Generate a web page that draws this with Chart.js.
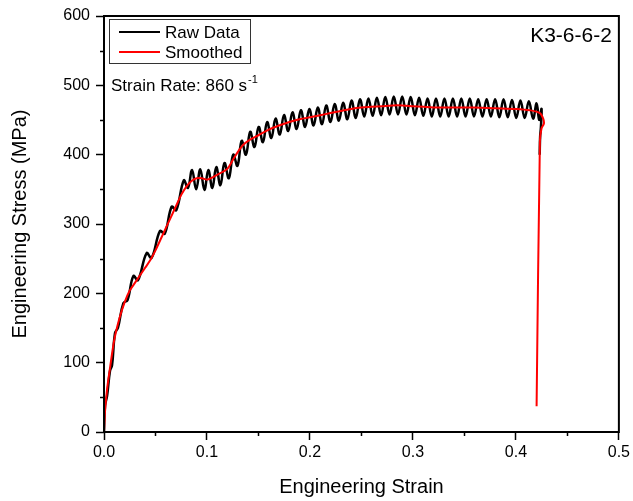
<!DOCTYPE html>
<html lang="en">
<head>
<meta charset="UTF-8">
<title>K3-6-6-2 Engineering Stress-Strain</title>
<script src="https://cdn.jsdelivr.net/npm/chart.js"></script>
<style>
    body {
        margin: 0;
        background: #fff;
    }
    #chart {
        display: block;
    }
</style>
</head>
<body>
<canvas id="chart" width="633" height="501"></canvas>
<script>
// Raw data (peaks and troughs of the ringing signal)
const rawStrain = [
    0, 0.0010, 0.0030, 0.0058, 0.0078, 0.0107, 0.0135, 0.0188, 0.0228, 0.0285,
    0.0330, 0.0414, 0.0462, 0.0544, 0.0590, 0.0657, 0.0702, 0.0775, 0.0815, 0.0855,
    0.0895, 0.0935, 0.0975, 0.1013, 0.1052, 0.1090, 0.1130, 0.1170, 0.1212, 0.1255,
    0.1296, 0.1337, 0.1378, 0.1420, 0.1461, 0.1502, 0.1543, 0.1584, 0.1625, 0.1666,
    0.1707, 0.1748, 0.1789, 0.1830, 0.1871, 0.1912, 0.1953, 0.1994, 0.2035, 0.2076,
    0.2117, 0.2158, 0.2199, 0.2240, 0.2281, 0.2322, 0.2363, 0.2404, 0.2445, 0.2486,
    0.2527, 0.2568, 0.2609, 0.2650, 0.2691, 0.2732, 0.2773, 0.2814, 0.2855, 0.2896,
    0.2937, 0.2978, 0.3019, 0.3060, 0.3101, 0.3142, 0.3183, 0.3224, 0.3265, 0.3306,
    0.3347, 0.3388, 0.3429, 0.3470, 0.3511, 0.3552, 0.3593, 0.3634, 0.3675, 0.3716,
    0.3757, 0.3798, 0.3839, 0.3880, 0.3921, 0.3962, 0.4003, 0.4044, 0.4085, 0.4126,
    0.4167, 0.4201, 0.4226, 0.4249, 0.4243, 0.4235, 0.4231
];
const rawStress = [
    0, 38, 52, 88, 96, 143, 150, 186, 190, 225,
    219, 258, 251, 290, 286, 325, 320, 363, 352, 378,
    350, 379, 349, 378, 352, 382, 356, 388, 366, 400,
    384, 420, 400, 433, 411, 440, 418, 447, 424, 452,
    429, 457, 434, 461, 437, 464, 440, 466, 442, 468,
    444, 471, 447, 473, 449, 475, 451, 478, 453, 480,
    455, 481, 456, 482, 457, 483, 458, 484, 458, 484,
    458, 483, 457, 482, 456, 481, 455, 481, 455, 481,
    455, 481, 455, 481, 455, 481, 455, 480, 455, 480,
    455, 480, 454, 480, 454, 479, 453, 478, 453, 477,
    452, 474, 450, 466, 440, 425, 400
];

// Smoothed curve
const smoothStrain = [
    0, 0.001, 0.003, 0.006, 0.010, 0.015, 0.020, 0.025, 0.030, 0.035,
    0.040, 0.045, 0.050, 0.055, 0.060, 0.065, 0.070, 0.075, 0.080, 0.085,
    0.090, 0.095, 0.100, 0.105, 0.110, 0.115, 0.120, 0.125, 0.130, 0.135,
    0.140, 0.150, 0.160, 0.170, 0.180, 0.190, 0.200, 0.210, 0.220, 0.230,
    0.240, 0.250, 0.260, 0.270, 0.280, 0.290, 0.300, 0.310, 0.320, 0.340,
    0.360, 0.380, 0.400, 0.4136, 0.4233, 0.4265, 0.4272, 0.4249, 0.4233, 0.4201
];
const smoothStress = [
    0, 30, 62, 94, 133, 164, 187, 204, 215, 226,
    237, 248, 262, 278, 294, 310, 326, 342, 354, 362,
    366, 366, 364, 367, 371, 375, 380, 392, 404, 414,
    420, 428, 436, 442, 447, 451, 454, 457, 460, 463,
    466, 468, 469, 470, 471, 471, 470, 469, 468, 468,
    468, 467, 466, 464, 460, 452, 445, 438, 419, 37
];

const xTicks = [0, 0.1, 0.2, 0.3, 0.4, 0.5];
const yTicks = [0, 100, 200, 300, 400, 500, 600];
const xMinor = [0.05, 0.15, 0.25, 0.35, 0.45];
const yMinor = [50, 150, 250, 350, 450, 550];

const sampleName = 'K3-6-6-2';
const strainRate = 860;

const FONT = "'Liberation Sans', Arial, sans-serif";

// Frame, minor ticks, legend box and the notes
const decorations = {
    id: 'decorations',
    afterDraw(chart) {
        const ctx = chart.ctx;
        const area = chart.chartArea;
        const xs = chart.scales.x;
        const ys = chart.scales.y;
        ctx.save();

        // frame around the plot
        ctx.strokeStyle = '#000';
        ctx.lineWidth = 2;
        ctx.strokeRect(area.left, area.top, area.right - area.left, area.bottom - area.top);

        // minor ticks
        ctx.lineWidth = 1.5;
        ctx.beginPath();
        xMinor.forEach(v => {
            const px = Math.round(xs.getPixelForValue(v)) + 0.5;
            ctx.moveTo(px, area.bottom);
            ctx.lineTo(px, area.bottom + 4);
        });
        yMinor.forEach(v => {
            const py = Math.round(ys.getPixelForValue(v)) + 0.5;
            ctx.moveTo(area.left, py);
            ctx.lineTo(area.left - 4, py);
        });
        ctx.stroke();

        // legend
        const lx = area.left + 5, ly = area.top + 3;
        ctx.lineWidth = 1;
        ctx.strokeStyle = '#333';
        ctx.strokeRect(lx + 0.5, ly + 0.5, 141, 44);
        ctx.font = '17px ' + FONT;
        ctx.textBaseline = 'middle';
        ctx.textAlign = 'left';
        chart.data.datasets.forEach((ds, i) => {
            const yy = ly + 13 + i * 20;
            ctx.strokeStyle = ds.borderColor;
            ctx.lineWidth = 2;
            ctx.beginPath();
            ctx.moveTo(lx + 10, yy);
            ctx.lineTo(lx + 51, yy);
            ctx.stroke();
            ctx.fillStyle = '#000';
            ctx.fillText(ds.label, lx + 56, yy + 1);
        });

        // strain rate note
        ctx.fillStyle = '#000';
        ctx.textBaseline = 'alphabetic';
        const base = 'Strain Rate: ' + strainRate + ' s';
        ctx.font = '17px ' + FONT;
        ctx.fillText(base, area.left + 7, area.top + 75);
        const w = ctx.measureText(base).width;
        ctx.font = '11px ' + FONT;
        ctx.fillText('-1', area.left + 7 + w + 1, area.top + 67);

        // sample name
        ctx.font = '21px ' + FONT;
        ctx.textAlign = 'right';
        ctx.fillText(sampleName, area.right - 7, area.top + 26);

        ctx.restore();
    }
};

const ctx = document.getElementById('chart').getContext('2d');
const chart = new Chart(ctx, {
    type: 'scatter',
    data: {
        datasets: [{
            label: 'Raw Data',
            data: rawStrain.map((v, i) => ({ x: v, y: rawStress[i] })),
            showLine: true,
            borderColor: '#000000',
            borderWidth: 2.5,
            pointRadius: 0,
            tension: 0.4,
            order: 2
        }, {
            label: 'Smoothed',
            data: smoothStrain.map((v, i) => ({ x: v, y: smoothStress[i] })),
            showLine: true,
            borderColor: '#ff0000',
            borderWidth: 2,
            pointRadius: 0,
            tension: 0.3,
            order: 1
        }]
    },
    options: {
        responsive: false,
        animation: false,
        layout: {
            padding: { left: 0, top: 16, right: 14, bottom: 0 }
        },
        plugins: {
            legend: { display: false },
            tooltip: { enabled: false }
        },
        scales: {
            x: {
                type: 'linear',
                min: 0,
                max: 0.5,
                afterBuildTicks: s => { s.ticks = xTicks.map(v => ({ value: v })); },
                afterFit: s => { s.height = 69; },
                border: { display: false },
                grid: {
                    drawOnChartArea: false,
                    tickLength: 8,
                    tickWidth: 1.5,
                    tickColor: '#000'
                },
                ticks: {
                    color: '#000',
                    padding: 3,
                    maxRotation: 0,
                    font: { family: FONT, size: 16 },
                    callback: v => v.toFixed(1)
                },
                title: {
                    display: true,
                    text: 'Engineering Strain',
                    color: '#000',
                    font: { family: FONT, size: 20 },
                    padding: { top: 0, bottom: 2 }
                }
            },
            y: {
                type: 'linear',
                min: 0,
                max: 600,
                afterBuildTicks: s => { s.ticks = yTicks.map(v => ({ value: v })); },
                afterFit: s => { s.width = 104; },
                border: { display: false },
                grid: {
                    drawOnChartArea: false,
                    tickLength: 8,
                    tickWidth: 1.5,
                    tickColor: '#000'
                },
                ticks: {
                    color: '#000',
                    padding: 6,
                    font: { family: FONT, size: 16 },
                    callback: v => String(v)
                },
                title: {
                    display: true,
                    text: 'Engineering Stress (MPa)',
                    color: '#000',
                    font: { family: FONT, size: 20 },
                    padding: { top: 8, bottom: 0 }
                }
            }
        }
    },
    plugins: [decorations]
});
</script>
</body>
</html>
